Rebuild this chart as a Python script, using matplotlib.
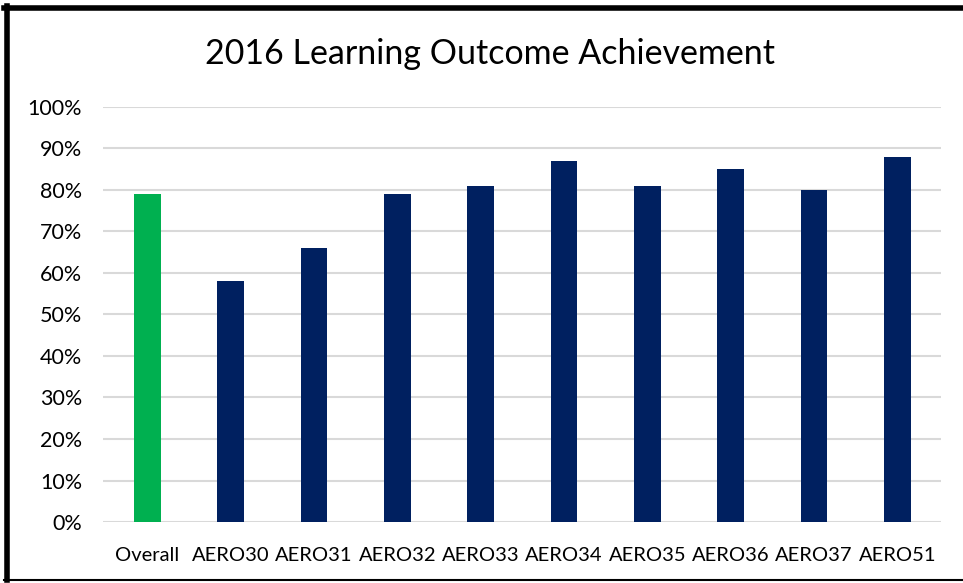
import matplotlib.pyplot as plt
from matplotlib.lines import Line2D
from matplotlib.ticker import PercentFormatter

categories = ["Overall", "AERO30", "AERO31", "AERO32", "AERO33",
              "AERO34", "AERO35", "AERO36", "AERO37", "AERO51"]
values = [79, 58, 66, 79, 81, 87, 81, 85, 80, 88]
colors = ["#00B050"] + ["#002060"] * 9

plt.rcParams['font.family'] = ['Lato', 'DejaVu Sans']

fig = plt.figure(figsize=(9.63, 5.83), dpi=100)
ax = fig.add_axes([0.107, 0.1046, 0.870, 0.712])

x = range(len(categories))
ax.bar(x, values, width=0.32, color=colors, zorder=3)

ax.set_ylim(0, 100)
ax.set_xlim(-0.53, 9.52)
ax.set_yticks(range(0, 101, 10))
ax.yaxis.set_major_formatter(PercentFormatter(decimals=0))
ax.set_xticks(list(x))
ax.set_xticklabels(categories)
ax.grid(axis='y', color='#D9D9D9', linewidth=1.5, zorder=0)
for s in ax.spines.values():
    s.set_visible(False)
ax.tick_params(length=0, colors='black')
ax.tick_params(axis='x', pad=18, labelsize=14.5)
ax.tick_params(axis='y', pad=15, labelsize=15.5)

fig.text(0.509, 0.908, "2016 Learning Outcome Achievement", ha='center', va='center',
         fontsize=24.5)

# outer frame
fig.add_artist(Line2D([0.004, 1.0], [0.987, 0.987], color='black', linewidth=4,
                      transform=fig.transFigure))
fig.add_artist(Line2D([0.0068, 0.0068], [0.005, 0.99], color='black', linewidth=4,
                      transform=fig.transFigure))
fig.add_artist(Line2D([0.004, 1.0], [0.006, 0.006], color='black', linewidth=1.5,
                      transform=fig.transFigure))

fig.savefig("out.png", dpi=100)
